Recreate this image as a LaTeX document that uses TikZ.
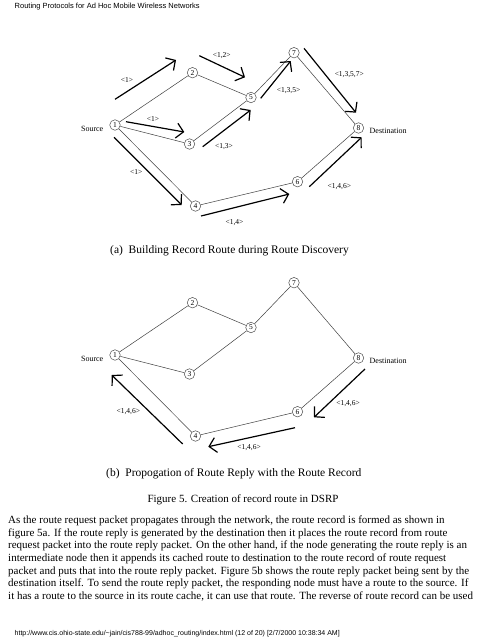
\documentclass[tikz,border=0pt]{standalone}
\usepackage{fontspec}
\setmainfont{Liberation Serif}
\setsansfont{Liberation Sans}
\usetikzlibrary{arrows.meta}

\tikzset{
  station/.style={circle,draw=black!70,line width=0.5pt,inner sep=0pt,minimum size=10.5pt,font=\fontsize{7.5}{8}\selectfont},
  link/.style={draw=black!75,line width=0.5pt},
  msg/.style={line width=1.2pt,-{Straight Barb[length=7pt,width=15pt]}},
  tag/.style={inner sep=0pt,font=\fontsize{7.5}{8}\selectfont},
  caption/.style={inner sep=0pt,font=\fontsize{11}{13}\selectfont},
}

\begin{document}
\begin{tikzpicture}[x=1pt,y=-1pt]
\useasboundingbox (0,0) rectangle (495,640);
\fill[white] (0,0) rectangle (495,640);

% en-tete de la page
\node[inner sep=0pt,anchor=west,font=\sffamily\fontsize{7.5}{8}\selectfont] (head) at (14.5,7) {Routing Protocols for Ad Hoc Mobile Wireless Networks};

% les deux reseaux : (a) en haut, (b) en bas
\foreach \p/\dy in {a/0,b/230} {
  \foreach \n/\x/\y in {1/115/125, 2/192.5/72.7, 3/189.5/144, 4/195.5/206,
                        5/251/97.5, 6/297.5/181.7, 7/294/52.7, 8/358.5/128} {
    \node[station] (\p\n) at (\x,\y+\dy) {\n};
  }
  \foreach \u/\v in {1/2,1/3,1/4,2/5,3/5,5/7,7/8,4/6,6/8}
    \draw[link] (\p\u) -- (\p\v);
  \node[tag,anchor=east,font=\fontsize{8}{8}\selectfont] (\p-src) at (103.5,\dy+128.5) {Source};
  \node[tag,anchor=west,font=\fontsize{8}{8}\selectfont] (\p-dst) at (369.5,\dy+130.5) {Destination};
}

% (a) route record pendant la decouverte
\foreach \i/\sx/\sy/\ex/\ey in {1/115/99.3/176/60, 2/199.3/55.7/245/77.3, 3/126/121.7/184.3/132,
                                4/202.7/146.7/250.7/110, 5/114/137.3/181.7/205, 6/201/216/289.3/194,
                                7/260.7/98.3/290.7/61, 8/304/48.3/356/112.7, 9/309.3/186.7/361.7/137.3} {
  \coordinate (ra\i) at (\sx,\sy);
  \coordinate (rb\i) at (\ex,\ey);
  \draw[msg] (ra\i) -- (rb\i);
}
\node[tag] (la1) at (127,80) {<1>};
\node[tag] (la2) at (221.7,56) {<1,2>};
\node[tag] (la3) at (153,119) {<1>};
\node[tag] (la4) at (224,146.7) {<1,3>};
\node[tag] (la5) at (136.3,172.3) {<1>};
\node[tag] (la6) at (234.5,222.7) {<1,4>};
\node[tag] (la7) at (288.5,90.7) {<1,3,5>};
\node[tag] (la8) at (349.3,75) {<1,3,5,7>};
\node[tag] (la9) at (339.3,186.7) {<1,4,6>};

% (b) route reply
\foreach \i/\sx/\sy/\ex/\ey in {1/365/369/314/417.3, 2/295/427.7/208.3/446.7, 3/182.7/444/111.7/375} {
  \coordinate (qa\i) at (\sx,\sy);
  \coordinate (qb\i) at (\ex,\ey);
  \draw[msg] (qa\i) -- (qb\i);
}
\node[tag] (lb1) at (348,403.3) {<1,4,6>};
\node[tag] (lb2) at (249,448) {<1,4,6>};
\node[tag] (lb3) at (128.3,411.7) {<1,4,6>};

% legendes
\node[caption,anchor=west,font=\fontsize{11.5}{13}\selectfont] (capa) at (110,251) {(a)\enspace Building Record Route during Route Discovery};
\node[caption,anchor=west,font=\fontsize{11.5}{13}\selectfont] (capb) at (106,474) {(b)\enspace Propogation of Route Reply with the Route Record};
\node[caption] (fig) at (243,500) {Figure 5. Creation of record route in DSRP};

% texte
\node[inner sep=0pt,anchor=north west,align=left,font=\fontsize{11}{12.7}\selectfont] (body) at (8,515.5) {%
As the route request packet propagates through the network, the route record is formed as shown in\\
figure 5a. If the route reply is generated by the destination then it places the route record from route\\
request packet into the route reply packet. On the other hand, if the node generating the route reply is an\\
intermediate node then it appends its cached route to destination to the route record of route request\\
packet and puts that into the route reply packet. Figure 5b shows the route reply packet being sent by the\\
destination itself. To send the route reply packet, the responding node must have a route to the source. If\\
it has a route to the source in its route cache, it can use that route. The reverse of route record can be used};

% pied de page
\node[inner sep=0pt,anchor=west,font=\sffamily\fontsize{7}{8}\selectfont] (foot) at (14.5,634) {http://www.cis.ohio-state.edu/\textasciitilde jain/cis788-99/adhoc\_routing/index.html (12 of 20) [2/7/2000 10:38:34 AM]};
\end{tikzpicture}
\end{document}
